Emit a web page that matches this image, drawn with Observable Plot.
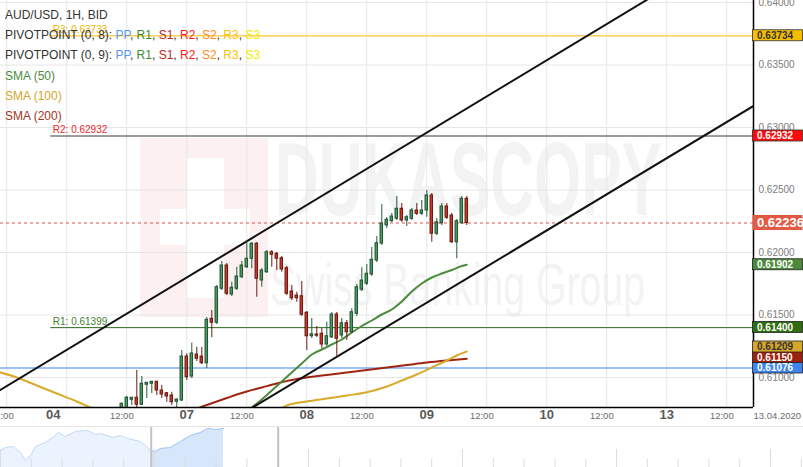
<!DOCTYPE html>
<html><head><meta charset="utf-8">
<script src="https://cdn.jsdelivr.net/npm/d3@7"></script>
<script src="https://cdn.jsdelivr.net/npm/@observablehq/plot@0.6"></script>
<style>
body{margin:0;background:#fff;font-family:"Liberation Sans",Arial,sans-serif;}
#wrap{position:relative;width:803px;height:467px;overflow:hidden;background:#fff;}
#main{position:absolute;left:0;top:0;}
#nav{position:absolute;left:0;top:426px;border-top:1px solid #e6e6e6;}
#legend{position:absolute;left:5px;top:5px;font-size:12px;color:#333;line-height:20.2px;pointer-events:none;white-space:nowrap;}
</style></head>
<body><div id="wrap"><div id="main"></div><div id="nav"></div><div id="legend"></div></div>
<script>
// ---------- DATA ----------
const firstHour = 23; // hour index of first candle
const opens  = [0.60744,0.60736,0.60822,0.60838,0.60782,0.60942,0.60950,0.60966,0.60896,0.60874,0.60856,0.60806,0.60816,0.61168,0.61008,0.61184,0.61168,0.61114,0.61470,0.61438,0.61710,0.61896,0.61664,0.61710,0.61802,0.61882,0.61950,0.62070,0.61776,0.61842,0.62002,0.61990,0.61954,0.61874,0.61688,0.61656,0.61650,0.61518,0.61330,0.61344,0.61350,0.61264,0.61322,0.61504,0.61336,0.61434,0.61362,0.61510,0.61702,0.61750,0.61824,0.61936,0.62072,0.62216,0.62250,0.62270,0.62350,0.62256,0.62270,0.62336,0.62310,0.62336,0.62456,0.62150,0.62234,0.62368,0.62296,0.62082,0.62234,0.62430];
const highs  = [0.60796,0.60850,0.60840,0.61056,0.61008,0.60960,0.60968,0.60968,0.60936,0.60880,0.60882,0.60828,0.61216,0.61190,0.61274,0.61242,0.61240,0.61480,0.61536,0.61736,0.61928,0.61912,0.61762,0.61882,0.61928,0.62096,0.62080,0.62080,0.61872,0.62016,0.62016,0.62000,0.61968,0.61888,0.61736,0.61682,0.61768,0.61528,0.61472,0.61408,0.61392,0.61442,0.61520,0.61520,0.61472,0.61456,0.61550,0.61744,0.61878,0.61904,0.62040,0.62128,0.62384,0.62280,0.62312,0.62448,0.62392,0.62296,0.62352,0.62392,0.62416,0.62496,0.62472,0.62272,0.62392,0.62392,0.62312,0.62264,0.62448,0.62448];
const lows   = [0.60720,0.60720,0.60776,0.60744,0.60776,0.60832,0.60872,0.60856,0.60832,0.60802,0.60776,0.60760,0.60808,0.60976,0.60992,0.61128,0.61104,0.61072,0.61318,0.61424,0.61696,0.61656,0.61648,0.61696,0.61792,0.61872,0.61870,0.61642,0.61722,0.61832,0.61882,0.61856,0.61842,0.61656,0.61616,0.61602,0.61488,0.61216,0.61312,0.61320,0.61232,0.61248,0.61312,0.61162,0.61312,0.61296,0.61352,0.61488,0.61688,0.61736,0.61808,0.61920,0.62056,0.62192,0.62240,0.62256,0.62240,0.62208,0.62256,0.62296,0.62296,0.62282,0.62082,0.62136,0.62216,0.62264,0.62072,0.61950,0.62224,0.62216];
const closes = [0.60790,0.60838,0.60838,0.60782,0.60950,0.60958,0.60966,0.60896,0.60864,0.60848,0.60802,0.60824,0.61168,0.61002,0.61192,0.61150,0.61114,0.61462,0.61438,0.61722,0.61896,0.61670,0.61718,0.61808,0.61896,0.61950,0.62070,0.61790,0.61856,0.62002,0.61982,0.61950,0.61864,0.61670,0.61634,0.61634,0.61502,0.61330,0.61346,0.61334,0.61264,0.61330,0.61504,0.61310,0.61434,0.61362,0.61522,0.61722,0.61776,0.61830,0.61942,0.62074,0.62232,0.62262,0.62288,0.62350,0.62256,0.62282,0.62336,0.62310,0.62336,0.62456,0.62150,0.62242,0.62368,0.62278,0.62082,0.62250,0.62430,0.62236];

const sma50Hours  = [47,49,51,53,55,57,59,61,63,65,67,69,71,73,75,77,79,81,83,85,87,89,91,92];
const sma50Values = [0.60696,0.60760,0.60824,0.60896,0.60968,0.61040,0.61112,0.61184,0.61224,0.61264,0.61304,0.61360,0.61412,0.61456,0.61504,0.61544,0.61608,0.61688,0.61752,0.61800,0.61832,0.61860,0.61892,0.61902];
const sma100Hours  = [-2,2,6,10,14,18,36,54,56,60,64,68,72,76,79,82,85,88,90,92];
const sma100Values = [0.61048,0.61000,0.60936,0.60872,0.60808,0.60736,null,0.60728,0.60776,0.60808,0.60832,0.60856,0.60882,0.60928,0.60976,0.61024,0.61080,0.61136,0.61176,0.61209];
const sma200Hours  = [36,38,40,42,44,46,48,51,54,57,60,64,68,72,76,80,84,88,92];
const sma200Values = [0.60724,0.60752,0.60780,0.60808,0.60836,0.60864,0.60888,0.60920,0.60952,0.60980,0.61000,0.61020,0.61040,0.61060,0.61080,0.61100,0.61120,0.61136,0.61150];

const channelUpper = [{h:-2, p:0.60883},{h:150, p:0.64552}];
const channelLower = [{h:48, p:0.60732},{h:150, p:0.63188}];

const pivotStartHour = 8.8;
const pivotNames  = ["R3","R2","R1"];
const pivotValues = [0.63733,0.62932,0.61399];
const ppValue = 0.61076;
const lastPrice = 0.62236;

const yTicks = [0.610,0.615,0.620,0.625,0.630,0.635,0.640];
const gridHours = [0,12,24,36,48,60,72,84,96,108,120,132,144];
const dayTickHours  = [9.3,36,60,84,108,132];
const dayTickLabels = ["04","07","08","09","10","13"];
const noonTickHours = [0,24,48,72,96,120,144];
const dateTickHour = 154.1, dateTickLabel = "13.04.2020";

// right-hand value markers
const markerKeys   = ["r3","r2","last","sma50","r1","sma100","sma200","pp"];
const markerValues = [0.63734,0.62932,0.62236,0.61902,0.61400,0.61209,0.61150,0.61076];

// navigator (day index, level)
const navDays   = [0,0.162,0.422,0.649,0.812,0.974,1.136,1.461,1.688,1.883,2.110,2.435,2.825,3.084,3.247,3.669,3.896,4.123,4.545,4.773,4.893,5.032,5.195,5.519,5.844,6.169,6.494,6.721,6.981,7.240];
const navValues = [0.59625,0.60000,0.60125,0.59375,0.58375,0.59000,0.60125,0.60625,0.61250,0.61875,0.61375,0.62000,0.62125,0.61625,0.61750,0.61250,0.61500,0.61125,0.60750,0.60000,0.59625,0.59500,0.59875,0.60000,0.60750,0.61500,0.61875,0.62375,0.62250,0.62375];
const navSelStart = 4.893, navHandles = [4.893, 9.016];
const navTickDays = d3.range(0, 27);

// ---------- BUILD ----------
const candles = opens.map((o,i)=>({h:firstHour+i, o, hi:highs[i], lo:lows[i], c:closes[i]}));
const up = candles.filter(d=>d.c>=d.o), down = candles.filter(d=>d.c<d.o);
const toPts = (hs, vs) => hs.map((h,i)=>({h, v: vs[i]==null ? NaN : vs[i]}));
const sma50 = toPts(sma50Hours, sma50Values), sma100 = toPts(sma100Hours, sma100Values), sma200 = toPts(sma200Hours, sma200Values);
const pivots = pivotNames.map((n,i)=>({name:n, value:pivotValues[i]}));
const xDomain = [-1.26, 149.34];
const yDomain = [0.6076, 0.64016];
const pivotColor = {R3:"#f5b800", R2:"#3a3a3a", R1:"#2d6a1e"};
const pivotTextColor = {R3:"#f0b400", R2:"#e8262a", R1:"#3f7f2c"};
const bw = 0.25;

const chart = Plot.plot({
  width: 803, height: 427,
  marginLeft: 0, marginRight: 50, marginTop: 0, marginBottom: 20,
  style: {fontFamily: "'Liberation Sans', Arial, sans-serif", background: "transparent", overflow: "visible"},
  x: {domain: xDomain, axis: null},
  y: {domain: yDomain, axis: null},
  marks: [
    Plot.ruleY(yTicks, {stroke: "#e6e6e6"}),
    Plot.ruleX(gridHours, {stroke: "#e6e6e6"}),
    Plot.axisY({anchor: "right", ticks: yTicks, tickSize: 0, tickPadding: 5, tickFormat: d3.format(".5f"), fontSize: 10, color: "#7d7d7d"}),
    // pivots
    ...pivots.map(p => Plot.ruleY([p], {y: "value", x1: () => pivotStartHour, x2: () => xDomain[1], stroke: pivotColor[p.name], strokeWidth: 1})),
    ...pivots.map(p => Plot.text([p], {x: () => pivotStartHour, y: "value", text: d => `${d.name}: ${d.value.toFixed(5)}`, textAnchor: "start", dx: 2, dy: -6, fontSize: 10, fill: pivotTextColor[p.name]})),
    Plot.ruleY([ppValue], {stroke: "#3d85f0", strokeWidth: 1}),
    Plot.ruleY([lastPrice], {stroke: "#d9534f", strokeWidth: 1, strokeDasharray: "3,3"}),
    // moving averages
    Plot.line(sma200, {x: "h", y: "v", stroke: "#9e2510", strokeWidth: 2, curve: "monotone-x", clip: true}),
    Plot.line(sma100, {x: "h", y: "v", stroke: "#d9aa2b", strokeWidth: 2, curve: "monotone-x", clip: true}),
    Plot.line(sma50, {x: "h", y: "v", stroke: "#4b8b3b", strokeWidth: 2, curve: "monotone-x", clip: true}),
    // channel
    Plot.line(channelUpper, {x: "h", y: "p", stroke: "#111", strokeWidth: 2, clip: true}),
    Plot.line(channelLower, {x: "h", y: "p", stroke: "#111", strokeWidth: 2, clip: true}),
    // candles
    Plot.ruleX(up, {x: "h", y1: "lo", y2: "hi", stroke: "#245a36", strokeWidth: 1, clip: true}),
    Plot.ruleX(down, {x: "h", y1: "lo", y2: "hi", stroke: "#6e1a10", strokeWidth: 1, clip: true}),
    Plot.rect(up, {x1: d => d.h - bw, x2: d => d.h + bw, y1: "o", y2: "c", fill: "#4a9865", stroke: "#1f5230", strokeWidth: 1, clip: true}),
    Plot.rect(down, {x1: d => d.h - bw, x2: d => d.h + bw, y1: "o", y2: "c", fill: "#c33a28", stroke: "#6a170e", strokeWidth: 1, clip: true}),
    // frame lines
    Plot.ruleX([xDomain[1]], {stroke: "#000", strokeWidth: 1.5}),
    Plot.ruleY([yDomain[0]], {stroke: "#000", strokeWidth: 1.5}),
    // x labels
    Plot.text(dayTickHours, {x: d => d, text: (d,i) => dayTickLabels[i], frameAnchor: "bottom", dy: 11, fontSize: 13, fontWeight: "bold", fill: "#5a5a5a"}),
    Plot.text(noonTickHours, {x: d => d, text: () => "12:00", frameAnchor: "bottom", dy: 11, dx: -5, fontSize: 9.5, fill: "#6d6d6d"}),
    Plot.text([dateTickHour], {x: d => d, text: () => dateTickLabel, frameAnchor: "bottom", dy: 11, fontSize: 9.5, fill: "#6d6d6d"})
  ]
});
document.getElementById("main").appendChild(chart);

// watermark behind everything
const svg = d3.select(chart);
const wm = svg.insert("g", ":first-child").attr("text-anchor", "start");
wm.append("rect").attr("x",140).attr("y",138).attr("width",128).attr("height",179).attr("fill","#fcf0f0");
wm.append("rect").attr("x",186).attr("y",158).attr("width",38).attr("height",140).attr("fill","#fff");
wm.append("rect").attr("x",160).attr("y",209).attr("width",90).attr("height",36).attr("fill","#fff");
wm.append("text").attr("x",275).attr("y",215).attr("font-size",104).attr("font-weight","bold").attr("fill","#f3f3f3")
  .attr("textLength",387).attr("lengthAdjust","spacingAndGlyphs").text("DUKASCOPY");
wm.append("text").attr("x",270).attr("y",305).attr("font-size",60).attr("fill","#f3f3f3")
  .attr("textLength",375).attr("lengthAdjust","spacingAndGlyphs").text("Swiss Banking Group");

// right-hand value markers, positioned through the chart's y scale
const ys = chart.scale("y");
const yf = d3.scaleLinear(ys.domain, ys.range);
const markerStyle = {
  r3:{bg:"#f7be00", fg:"#333", border:"#333"},
  r2:{bg:"#ff0a0a", fg:"#fff", border:"#333"},
  last:{bg:"#e35a44", fg:"#fff", border:"none", big:true},
  sma50:{bg:"#4c8a3b", fg:"#fff", border:"#222"},
  r1:{bg:"#2f6e10", fg:"#fff", border:"#222"},
  sma100:{bg:"#d8a72a", fg:"#333", border:"#222"},
  sma200:{bg:"#9c220e", fg:"#fff", border:"#222"},
  pp:{bg:"#3d85f0", fg:"#fff", border:"#222"}
};
const markers = markerKeys.map((k,i)=>({k, v: markerValues[i], y: yf(markerValues[i])})).sort((a,b)=>b.y-a.y);
for (let i=1;i<markers.length;i++){ if (markers[i-1].y - markers[i].y < 10.5) markers[i].y = markers[i-1].y - 10.5; }
const mg = svg.append("g").attr("text-anchor", "start");
markers.forEach(m=>{
  const s = markerStyle[m.k]; const hh = s.big ? 15 : 11;
  mg.append("rect").attr("x",752.5).attr("y",m.y-hh/2).attr("width",50).attr("height",hh)
    .attr("fill",s.bg).attr("stroke",s.border==="none"?null:s.border).attr("stroke-width",0.8);
  mg.append("text").attr("x",757).attr("y",m.y).attr("dy","0.35em").attr("font-size",s.big?13:10).attr("font-weight","bold")
    .attr("fill",s.fg).text(m.v.toFixed(5));
});

// navigator
const navPts = navDays.map((d,i)=>({d, v: navValues[i]}));
const navA = navPts.filter(p=>p.d<=navSelStart), navB = navPts.filter(p=>p.d>=navSelStart);
const navY = [0.575, 0.625];
const nav = Plot.plot({
  width: 803, height: 40, margin: 0,
  style: {background: "transparent"},
  x: {domain: [0, 26.07], axis: null},
  y: {domain: navY, axis: null},
  marks: [
    Plot.areaY(navA, {x: "d", y1: () => navY[0], y2: "v", fill: "#ebf3fe"}),
    Plot.line(navA, {x: "d", y: "v", stroke: "#c4daf7", strokeWidth: 1}),
    Plot.areaY(navB, {x: "d", y1: () => navY[0], y2: "v", fill: "#d6e6fb"}),
    Plot.line(navB, {x: "d", y: "v", stroke: "#a6c7f4", strokeWidth: 1}),
    Plot.ruleX(navTickDays, {x: d => d, y1: () => navY[0], y2: d => d % 5 === 0 ? 0.5975 : 0.5855, stroke: "#dcdcdc", strokeWidth: 1}),
    Plot.ruleX(navHandles, {x: d => d, stroke: "#c2c2c2", strokeWidth: 2})
  ]
});
document.getElementById("nav").appendChild(nav);

// legend
const legendPivotNames = ["PP","R1","S1","R2","S2","R3","S3"];
const legendPivotColors = ["#5599ee","#3a8a30","#c02525","#ff1a1a","#ff8a1f","#ffbf00","#f2ea00"];
const smaLegend = ["SMA (50)","SMA (100)","SMA (200)"];
const smaLegendColors = ["#4a8a3c","#d6a42a","#a83422"];
const lg = document.getElementById("legend");
const pivotSpans = legendPivotNames.map((n,i)=>`<span style="color:${legendPivotColors[i]}">${n}</span>`).join(", ");
lg.innerHTML = `<div>AUD/USD, 1H, BID</div>`
  + `<div>PIVOTPOINT (0, 8): ${pivotSpans}</div>`
  + `<div>PIVOTPOINT (0, 9): ${pivotSpans}</div>`
  + smaLegend.map((s,i)=>`<div style="color:${smaLegendColors[i]}">${s}</div>`).join("");
</script>
</body></html>
